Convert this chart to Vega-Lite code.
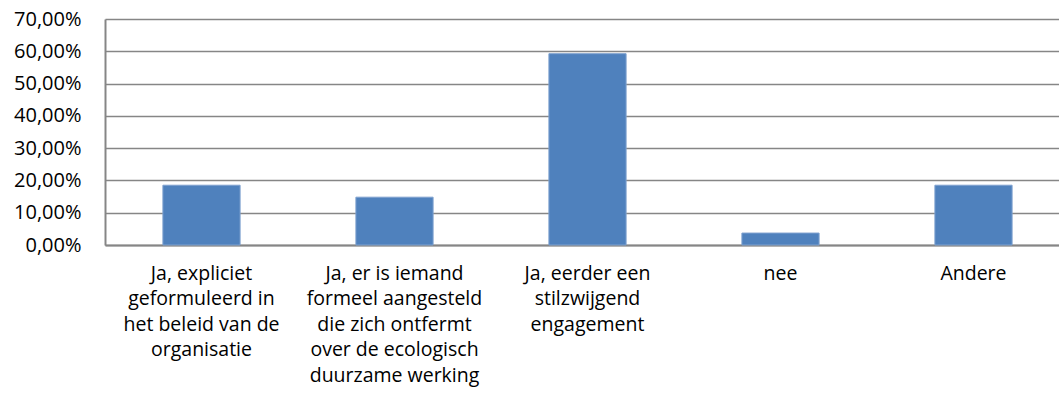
{
  "$schema": "https://vega.github.io/schema/vega-lite/v6.json",
  "autosize": {"type": "none"},
  "padding": {"left": 105, "top": 19, "right": 0, "bottom": 160},
  "width": 954,
  "height": 226,
  "background": "white",
  "data": {
    "values": [
      {"category": "Ja, expliciet\ngeformuleerd in\nhet beleid van de\norganisatie", "share": 0.1852},
      {"category": "Ja, er is iemand\nformeel aangesteld\ndie zich ontfermt\nover de ecologisch\nduurzame werking", "share": 0.1481},
      {"category": "Ja, eerder een\nstilzwijgend\nengagement", "share": 0.5926},
      {"category": "nee", "share": 0.037},
      {"category": "Andere", "share": 0.1852}
    ]
  },
  "mark": {"type": "bar", "color": "#4F81BD", "stroke": "#7EA1CF", "strokeWidth": 1},
  "encoding": {
    "x": {
      "field": "category",
      "type": "nominal",
      "sort": null,
      "scale": {"range": [0, 965], "paddingInner": 0.6, "paddingOuter": 0.3},
      "axis": {
        "title": null,
        "labelAngle": 0,
        "labelExpr": "split(datum.value, '\\n')",
        "labelFont": "Open Sans",
        "labelFontSize": 19.5,
        "labelColor": "#000000",
        "labelBaseline": "top",
        "labelPadding": 19,
        "labelLineHeight": 25.5,
        "labelLimit": 300,
        "ticks": false,
        "domainColor": "#868686",
        "domainWidth": 2,
        "grid": false
      }
    },
    "y": {
      "field": "share",
      "type": "quantitative",
      "scale": {"domain": [0, 0.7], "nice": false},
      "axis": {
        "title": null,
        "values": [0, 0.1, 0.2, 0.3, 0.4, 0.5, 0.6, 0.7],
        "labelExpr": "replace(format(datum.value, '.2%'), '.', ',')",
        "labelFont": "Open Sans",
        "labelFontSize": 20,
        "labelColor": "#000000",
        "labelPadding": 24,
        "ticks": false,
        "domainColor": "#868686",
        "domainWidth": 2,
        "grid": true,
        "gridColor": "#868686",
        "gridWidth": 1.5
      }
    }
  },
  "config": {"view": {"stroke": null}}
}
